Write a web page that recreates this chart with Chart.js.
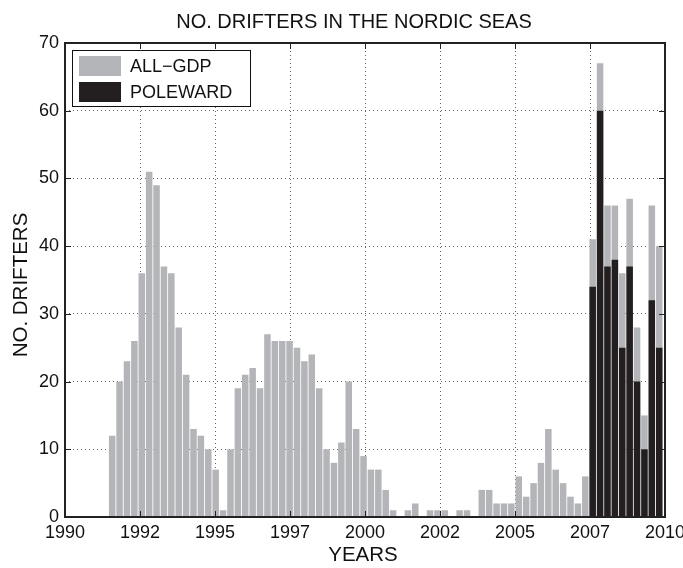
<!DOCTYPE html>
<html>
<head>
<meta charset="utf-8">
<title>No. drifters in the Nordic Seas</title>
<script src="https://cdn.jsdelivr.net/npm/chart.js@4"></script>
<style>
  html, body { margin: 0; padding: 0; background: #fff; }
  #wrap { width: 683px; height: 568px; }
</style>
</head>
<body>
<div id="wrap"><canvas id="c" width="683" height="568"></canvas></div>
<script>
// 90-day bins of drifter counts, first bin starting mid-1991
const FIRST_BIN_START = 1991.45;          // decimal year
const BIN_WIDTH = 90 / 365.25;            // years per bin

// Drifters of the whole GDP set per bin
const allGdp = [
  12, 20, 23, 26, 36, 51, 49, 37, 36, 28,
  21, 13, 12, 10, 7, 1, 10, 19, 21, 22,
  19, 27, 26, 26, 26, 25, 23, 24, 19, 10,
  8, 11, 20, 13, 9, 7, 7, 4, 1, 0,
  1, 2, 0, 1, 1, 1, 0, 1, 1, 0,
  4, 4, 2, 2, 2, 6, 3, 5, 8, 13,
  7, 5, 3, 2, 6, 41, 67, 46, 46, 36,
  47, 28, 15, 46, 40
];

// Poleward drifters per bin (only deployed from late 2007)
const poleward = [
  null, null, null, null, null, null, null, null, null, null,
  null, null, null, null, null, null, null, null, null, null,
  null, null, null, null, null, null, null, null, null, null,
  null, null, null, null, null, null, null, null, null, null,
  null, null, null, null, null, null, null, null, null, null,
  null, null, null, null, null, null, null, null, null, null,
  null, null, null, null, null, 34, 60, 37, 38, 25,
  37, 20, 10, 32, 25
];

const xTickValues = [1990, 1992.5, 1995, 1997.5, 2000, 2002.5, 2005, 2007.5, 2010];
const xTickLabels = ['1990', '1992', '1995', '1997', '2000', '2002', '2005', '2007', '2010'];

const seriesNames = ['ALL\u2212GDP', 'POLEWARD'];
const GRAY = '#b4b5b9';
const BLACK = '#231f20';
const FONT = '"Liberation Sans", Arial, Helvetica, sans-serif';
const INK = '#111';

const binCenters = allGdp.map((_, i) => FIRST_BIN_START + BIN_WIDTH * (i + 0.5));

// Box, inward tick marks, legend and titles
const framePlugin = {
  id: 'frame',
  afterDraw(chart) {
    const { ctx, chartArea: a, scales: { x, y } } = chart;
    ctx.save();
    ctx.strokeStyle = '#222';
    ctx.lineWidth = 1;
    const seg = (x1, y1, x2, y2) => { ctx.beginPath(); ctx.moveTo(x1, y1); ctx.lineTo(x2, y2); ctx.stroke(); };
    for (const v of xTickValues) {
      const px = Math.round(x.getPixelForValue(v)) + 0.5;
      seg(px, a.bottom, px, a.bottom - 6);
      seg(px, a.top, px, a.top + 6);
    }
    for (const t of y.ticks) {
      const py = Math.round(y.getPixelForValue(t.value)) + 0.5;
      seg(a.left, py, a.left + 6, py);
      seg(a.right, py, a.right - 6, py);
    }
    ctx.lineWidth = 2;
    ctx.strokeRect(a.left, a.top, a.right - a.left, a.bottom - a.top);

    // legend
    const lx = 72, ly = 50, lw = 178, lh = 56;
    ctx.fillStyle = '#fff';
    ctx.fillRect(lx, ly, lw, lh);
    ctx.lineWidth = 1;
    ctx.strokeStyle = '#111';
    ctx.strokeRect(lx + 0.5, ly + 0.5, lw, lh);
    const colors = [GRAY, BLACK];
    ctx.font = '18px ' + FONT;
    ctx.textAlign = 'left';
    ctx.textBaseline = 'middle';
    seriesNames.forEach((name, i) => {
      const sy = ly + 6 + i * 26;
      ctx.fillStyle = colors[i];
      ctx.fillRect(lx + 7, sy, 42, 20);
      ctx.fillStyle = INK;
      ctx.fillText(name, lx + 58, sy + 11);
    });

    // titles
    ctx.fillStyle = INK;
    ctx.textAlign = 'center';
    ctx.textBaseline = 'alphabetic';
    ctx.font = '20px ' + FONT;
    ctx.fillText('NO. DRIFTERS IN THE NORDIC SEAS', 354, 28);
    ctx.font = '20.5px ' + FONT;
    ctx.fillText('YEARS', 363, 561);
    ctx.translate(27, 285);
    ctx.rotate(-Math.PI / 2);
    ctx.fillText('NO. DRIFTERS', 0, 0);
    ctx.restore();
  }
};

new Chart(document.getElementById('c'), {
  type: 'bar',
  data: {
    labels: binCenters,
    datasets: [
      { label: seriesNames[0], data: allGdp, backgroundColor: GRAY, order: 2 },
      { label: seriesNames[1], data: poleward, backgroundColor: BLACK, order: 1 }
    ]
  },
  options: {
    responsive: false,
    animation: false,
    layout: { padding: { top: 43, right: 18, left: 0, bottom: 0 } },
    datasets: { bar: { grouped: false, categoryPercentage: 1, barPercentage: 0.88, borderWidth: 0 } },
    plugins: { legend: { display: false }, title: { display: false }, tooltip: { enabled: false } },
    scales: {
      x: {
        type: 'linear',
        min: 1990,
        max: 2010,
        offset: false,
        afterBuildTicks: s => { s.ticks = xTickValues.map(v => ({ value: v })); },
        afterFit: s => { s.height = 51; s.paddingLeft = 0; s.paddingRight = 0; },
        ticks: {
          autoSkip: false, maxRotation: 0, minRotation: 0, padding: 5,
          color: INK, font: { family: FONT, size: 18 },
          callback: (v, i) => xTickLabels[i]
        },
        grid: { offset: false, color: 'rgba(0,0,0,0.6)', lineWidth: 1, drawTicks: false },
        border: { display: false, dash: [1, 3] }
      },
      y: {
        min: 0,
        max: 70,
        afterFit: s => { s.width = 65; s.paddingTop = 0; s.paddingBottom = 0; },
        ticks: { stepSize: 10, padding: 6, color: INK, font: { family: FONT, size: 18 } },
        grid: { color: 'rgba(0,0,0,0.6)', lineWidth: 1, drawTicks: false },
        border: { display: false, dash: [1, 3] }
      }
    }
  },
  plugins: [framePlugin]
});
</script>
</body>
</html>
